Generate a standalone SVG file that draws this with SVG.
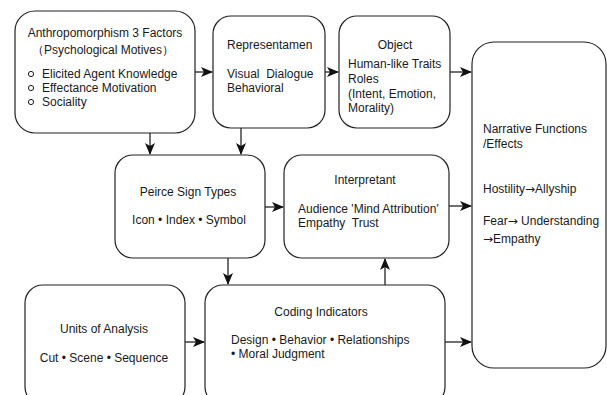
<svg xmlns="http://www.w3.org/2000/svg" width="607" height="395" viewBox="0 0 607 395">
<style>
.box{fill:#fff;stroke:#222;stroke-width:1.2}
.t{font-family:"Liberation Sans",Arial,sans-serif;font-size:12px;fill:#1a1a1a}
.c{text-anchor:middle}
.ar{font-family:"DejaVu Sans",sans-serif}
.ln{fill:none;stroke:#111;stroke-width:1.2}
</style>
<defs>
<marker id="ah" viewBox="0 0 12 10" refX="11" refY="5" markerWidth="12" markerHeight="10" markerUnits="userSpaceOnUse" orient="auto">
<path d="M0,0 L12,5 L0,10 L3,5 Z" fill="#111"/>
</marker>
</defs>
<rect width="607" height="395" fill="#fff"/>
<g id="connectors">
<line class="ln" x1="195" y1="72" x2="212" y2="72" marker-end="url(#ah)"/>
<line class="ln" x1="325" y1="72" x2="338" y2="72" marker-end="url(#ah)"/>
<line class="ln" x1="450" y1="72" x2="471" y2="72" marker-end="url(#ah)"/>
<line class="ln" x1="150" y1="133" x2="150" y2="154" marker-end="url(#ah)"/>
<line class="ln" x1="241" y1="128" x2="241" y2="154" marker-end="url(#ah)"/>
<line class="ln" x1="265" y1="207" x2="283" y2="207" marker-end="url(#ah)"/>
<line class="ln" x1="449" y1="206" x2="471" y2="206" marker-end="url(#ah)"/>
<line class="ln" x1="228" y1="258" x2="228" y2="284" marker-end="url(#ah)"/>
<line class="ln" x1="385" y1="285" x2="385" y2="259" marker-end="url(#ah)"/>
<line class="ln" x1="185" y1="342" x2="204" y2="342" marker-end="url(#ah)"/>
<line class="ln" x1="445" y1="342" x2="471" y2="342" marker-end="url(#ah)"/>
</g>
<g id="anthropomorphism">
<rect class="box" x="15" y="11" width="180" height="122" rx="20"/>
<text class="t c" x="105" y="37">Anthropomorphism 3 Factors</text>
<text class="t c" x="103" y="54">（Psychological Motives）</text>
<circle cx="31" cy="74" r="2.6" fill="none" stroke="#1a1a1a" stroke-width="1"/>
<circle cx="31" cy="88" r="2.6" fill="none" stroke="#1a1a1a" stroke-width="1"/>
<circle cx="31" cy="102" r="2.6" fill="none" stroke="#1a1a1a" stroke-width="1"/>
<text class="t" x="42" y="78">Elicited Agent Knowledge</text>
<text class="t" x="42" y="92">Effectance Motivation</text>
<text class="t" x="42" y="106">Sociality</text>
</g>
<g id="representamen">
<rect class="box" x="213" y="16" width="112" height="112" rx="18"/>
<text class="t" x="227" y="49">Representamen</text>
<text class="t" x="227" y="78" xml:space="preserve">Visual  Dialogue</text>
<text class="t" x="227" y="92">Behavioral</text>
</g>
<g id="object">
<rect class="box" x="339" y="16" width="111" height="112" rx="18"/>
<text class="t c" x="395" y="49">Object</text>
<text class="t" x="348" y="68">Human-like Traits</text>
<text class="t" x="348" y="83">Roles</text>
<text class="t" x="348" y="98">(Intent, Emotion,</text>
<text class="t" x="348" y="112">Morality)</text>
</g>
<g id="narrative">
<rect class="box" x="472" y="42" width="134" height="326" rx="22"/>
<text class="t" x="483" y="133">Narrative Functions</text>
<text class="t" x="483" y="148">/Effects</text>
<text class="t" x="483" y="193">Hostility<tspan class="ar">→</tspan>Allyship</text>
<text class="t" x="483" y="225">Fear<tspan class="ar">→</tspan> Understanding</text>
<text class="t" x="483" y="243"><tspan class="ar">→</tspan>Empathy</text>
</g>
<g id="peirce">
<rect class="box" x="115" y="155" width="150" height="103" rx="18"/>
<text class="t c" x="188" y="196">Peirce Sign Types</text>
<text class="t c" x="189" y="224">Icon • Index • Symbol</text>
</g>
<g id="interpretant">
<rect class="box" x="284" y="155" width="165" height="103" rx="18"/>
<text class="t c" x="365" y="184">Interpretant</text>
<text class="t" x="298" y="213">Audience 'Mind Attribution'</text>
<text class="t" x="298" y="227" xml:space="preserve">Empathy  Trust</text>
</g>
<g id="units">
<rect class="box" x="25" y="285" width="160" height="120" rx="18"/>
<text class="t c" x="104" y="333">Units of Analysis</text>
<text class="t c" x="104" y="362">Cut • Scene • Sequence</text>
</g>
<g id="coding">
<rect class="box" x="205" y="285" width="240" height="120" rx="18"/>
<text class="t c" x="321" y="316">Coding Indicators</text>
<text class="t" x="231" y="344">Design • Behavior • Relationships</text>
<text class="t" x="231" y="358">• Moral Judgment</text>
</g>
</svg>
